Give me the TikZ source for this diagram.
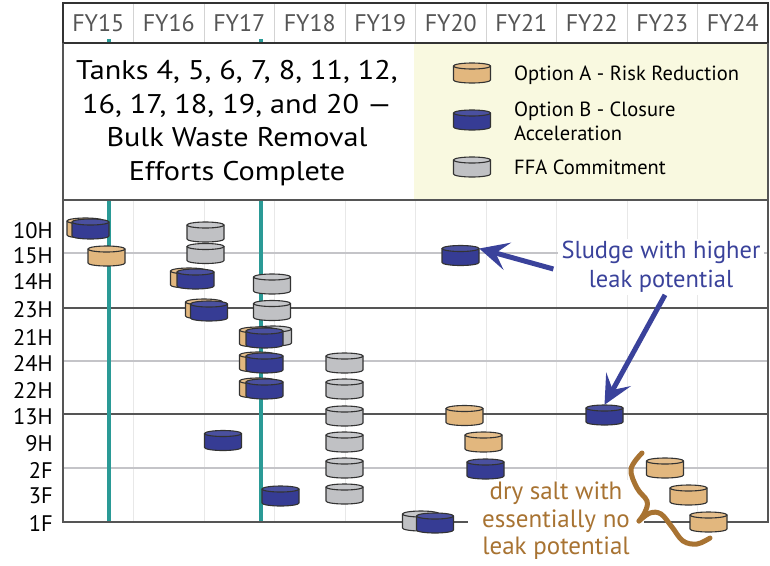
\documentclass[tikz,border=0pt]{standalone}
\usepackage{fontspec}
\setmainfont{PT Sans}
\newfontfamily\widefont[FakeStretch=1.12]{PT Sans}
\usetikzlibrary{arrows.meta,positioning}

\definecolor{optA}{RGB}{226,183,126}
\definecolor{optB}{RGB}{54,60,148}
\definecolor{ffa}{RGB}{192,193,196}
\definecolor{tealline}{RGB}{42,154,150}
\definecolor{legendfill}{RGB}{249,249,224}
\definecolor{sludgeblue}{RGB}{58,66,155}
\definecolor{saltbrown}{RGB}{168,115,50}
\definecolor{darkrule}{RGB}{85,85,85}
\definecolor{lightrule}{RGB}{196,196,200}
\definecolor{gridgray}{RGB}{232,232,232}
\definecolor{fygray}{RGB}{85,85,85}

\tikzset{
  tankbox/.style={rectangle, minimum width=37pt, minimum height=20pt, inner sep=0pt},
  tankedge/.style={draw=black!80, line width=1.1pt, line join=round},
  rowlab/.style={anchor=east, font=\fontsize{22.5}{22.5}\selectfont, inner sep=0pt},
  fylab/.style={font=\fontsize{24}{24}\selectfont, text=fygray},
  legtext/.style={anchor=west, align=left, font=\fontsize{20.5}{24}\selectfont, inner sep=0pt},
  bigarrow/.style={sludgeblue, line width=5pt, -{Stealth[length=29pt,width=28pt,inset=12pt]}},
  bracestroke/.style={saltbrown, line width=5pt, line cap=round},
}

% flat tank: name, position, fill colour
\newcommand\tank[3]{%
  \node[tankbox] (#1) at (#2) {};
  \begin{scope}[shift={(#1.center)}]
    \filldraw[tankedge, fill=#3] (-18.5,-7) -- (-18.5,7)
        arc[start angle=180, end angle=0, x radius=18.5, y radius=3] -- (18.5,-7) -- cycle;
    \filldraw[tankedge, fill=#3!90!white] (0,-7) ellipse [x radius=18.5, y radius=3];
  \end{scope}}

\begin{document}
\begin{tikzpicture}[x={(1pt,0pt)}, y={(0pt,-1pt)}]
    \useasboundingbox (0,0) rectangle (770,565);

    % Legend background
    \fill[legendfill] (414,43) rectangle (768,200);

    % Grid lines (header and chart)
    \foreach \k in {1,...,9} {
        \draw[gridgray!80!gray, line width=1pt] (63+70.5*\k,3) -- (63+70.5*\k,43);
        \draw[gridgray, line width=1pt] (63+70.5*\k,200) -- (63+70.5*\k,522);
    }

    % Fiscal year labels
    \foreach \fy [count=\i from 0] in {15,...,24}
        \node[fylab] (fy\fy) at (63+70.5*\i+35.25,23) {FY\fy};

    % Row rules
    \foreach \yy in {253,361,468}
        \draw[lightrule, line width=2pt] (63,\yy) -- (768,\yy);
    \foreach \yy in {308,414}
        \draw[darkrule, line width=2pt] (63,\yy) -- (768,\yy);

    % Teal milestones
    \foreach \xx in {109,261} {
        \draw[tealline, line width=3.5pt] (\xx,200) -- (\xx,522);
        \fill[tealline] (\xx-2,39) rectangle (\xx+2,43);
    }

    % Frame
    \draw[black!80, line width=2pt] (63,3) rectangle (768,43);
    \draw[darkrule, line width=2.5pt] (63,200) -- (768,200);
    \draw[darkrule, line width=2pt] (63,43) -- (63,522) -- (768,522) -- (768,43);

    % Tank labels
    \foreach \lab/\yy in {10H/231,15H/256,14H/281,23H/310,21H/337,24H/363,
                          22H/390,13H/417,9H/444,2F/470,3F/496,1F/523}
        \node[rowlab] (row\lab) at (53,\yy) {\lab};

    % Completed tanks text
    \node[align=center, font=\widefont\fontsize{27}{33.5}\selectfont] (done) at (237,123)
        {Tanks 4, 5, 6, 7, 8, 11, 12,\\16, 17, 18, 19, and 20 —\\Bulk Waste Removal\\Efforts Complete};

    % Legend
    \tank{legA}{472,73}{optA}
    \tank{legB}{472,120}{optB}
    \tank{legF}{472,167}{ffa}
    \node[legtext] (legAtext) at (514,75) {Option A - Risk Reduction};
    \node[legtext] (legBtext) at (514,121) {Option B - Closure\\Acceleration};
    \node[legtext] (legFtext) at (514,167) {FFA Commitment};

    % FY15 tanks
    \tank{A10H15}{85.5,228}{optA}
    \tank{B10H15}{90.5,229}{optB}
    \tank{A15H15}{106.5,256}{optA}

    % FY16 tanks
    \tank{F10H16}{205.5,232}{ffa}
    \tank{F15H16}{205.5,253.5}{ffa}
    \tank{A14H16}{189,278}{optA}
    \tank{B14H16}{195.5,279}{optB}
    \tank{A23H16}{204,309}{optA}
    \tank{B23H16}{209,311}{optB}
    \tank{B9H16}{223,440.5}{optB}

    % FY17 tanks
    \tank{F14H17}{272,284}{ffa}
    \tank{F23H17}{272,310.5}{ffa}
    \tank{F21H17}{273,336}{ffa}
    \tank{A21H17}{258,337}{optA}
    \tank{B21H17}{264.5,338}{optB}
    \tank{A24H17}{258,362}{optA}
    \tank{B24H17}{264.5,363}{optB}
    \tank{A22H17}{258,388}{optA}
    \tank{B22H17}{264.5,389}{optB}
    \tank{B3F17}{280.5,496}{optB}

    % FY18 FFA column
    \foreach \tk/\yy in {24H/363,22H/389,13H/416,9H/442,2F/468,3F/494} {
        \tank{F\tk18}{344.5,\yy}{ffa}
    }

    % FY19 - FY20 tanks
    \tank{F1F19}{421,521}{ffa}
    \tank{B1F19}{435,523}{optB}
    \tank{B15H20}{460.5,255.5}{optB}
    \tank{A13H20}{464.5,415.5}{optA}
    \tank{A9H20}{483.5,442}{optA}
    \tank{B2F20}{485.5,469}{optB}

    % FY22 - FY23 tanks
    \tank{B13H22}{604.5,415}{optB}
    \tank{A2F23}{665,468}{optA}
    \tank{A3F23}{688.5,495}{optA}
    \tank{A1F23}{708.5,522}{optA}

    % Sludge callout
    \node[align=center, fill=white, text=sludgeblue, inner xsep=4pt, inner ysep=2pt,
          font=\fontsize{24.5}{29}\selectfont] (sludge) at (661,267)
        {Sludge with higher\\leak potential};
    \draw[bigarrow] ([xshift=-4pt,yshift=-2pt]sludge.west) -- ([yshift=7pt]B15H20.east);
    \draw[bigarrow] ([xshift=4pt]sludge.south) -- (B13H22.north);

    % Dry salt callout
    \node[align=center, fill=white, text=saltbrown, inner xsep=14pt, inner ysep=2pt,
          font=\fontsize{25}{27.5}\selectfont] (salt) at (556,521)
        {dry salt with\\essentially no\\leak potential};
    \draw[bracestroke] plot[smooth, tension=0.6] coordinates
        {(642,453) (631,469) (637,488) (647,501) (645,512) (639,521)};
    \draw[bracestroke] plot[smooth, tension=0.6] coordinates
        {(639,521) (650,513) (661,514) (672,527) (683,541) (697,544) (710,538)};

\end{tikzpicture}
\end{document}
